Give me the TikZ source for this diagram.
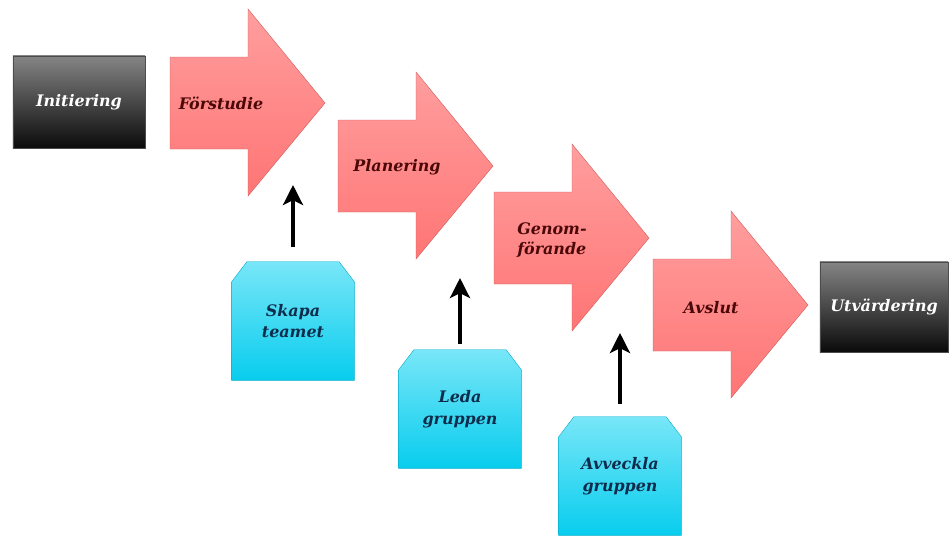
\documentclass[tikz,border=0pt]{standalone}
\usepackage{xcolor}
\usepackage{fontspec}
\setmainfont{DejaVu Serif}
\usepackage{tikz}
\usetikzlibrary{arrows.meta,backgrounds}

\definecolor{phasered}{HTML}{FF7575}
\definecolor{phaselight}{HTML}{FF9E9E}
\definecolor{phasetext}{HTML}{4A0808}
\definecolor{teamblue}{HTML}{08CDEE}
\definecolor{teamlight}{HTML}{78E6F8}
\definecolor{teamtext}{HTML}{0E2D4C}

\tikzset{
  gatebox/.style={rectangle, top color=black!48, bottom color=black!96, draw=black!70,
    text=white, minimum width=3.3cm, minimum height=2.3cm,
    font=\fontsize{11.3}{13}\selectfont\bfseries\itshape},
  phaselabel/.style={text=phasetext, align=left,
    font=\fontsize{11.3}{14}\selectfont\bfseries\itshape},
  teambox/.style={rectangle, text=teamtext, align=center,
    minimum width=3.05cm, minimum height=2.95cm,
    font=\fontsize{11.3}{15.5}\selectfont\bfseries\itshape},
  teamfill/.style={top color=teamlight, bottom color=teamblue, draw=teamblue!85!black, line width=0.3pt},
  uparrow/.style={-{Stealth[length=0.5cm,width=0.5cm,inset=0.12cm]}, line width=2.6pt, black},
  pics/phase/.style={code={
    \shade[top color=phaselight, bottom color=phasered, draw=phasered!80!black, line width=0.3pt]
      (0,0) -- (78,0) -- (78,-48) -- (155,46) -- (78,139) -- (78,92) -- (0,92) -- cycle;
  }}
}

% box with its two upper corners cut off
\newcommand{\teamshape}[1]{%
  \shade[teamfill] (#1.south west) -- ([yshift=-0.5cm]#1.north west)
    -- ([xshift=0.38cm]#1.north west) -- ([xshift=-0.38cm]#1.north east)
    -- ([yshift=-0.5cm]#1.north east) -- (#1.south east) -- cycle;}

\begin{document}
\begin{tikzpicture}[x=0.025cm, y=-0.025cm]
    \useasboundingbox (0,0) rectangle (949,542);

    % Start and end boxes
    \node[gatebox] (initiering) at (79,102) {Initiering};
    \node[gatebox, minimum width=3.2cm, minimum height=2.25cm] (utvardering) at (884,307) {Utvärdering};

    % Phase arrows
    \pic at (170,57) {phase};
    \pic at (338,120) {phase};
    \pic at (494,192) {phase};
    \pic at (653,259) {phase};
    \node[phaselabel] (forstudie) at (221,103) {Förstudie};
    \node[phaselabel] (planering) at (397,167) {Planering};
    \node[phaselabel] (genomforande) at (552,240) {Genom-\\förande};
    \node[phaselabel] (avslut) at (711,308) {Avslut};

    % Team steps
    \node[teambox] (skapa) at (293,321) {Skapa\\teamet};
    \node[teambox] (leda) at (460,409) {Leda\\gruppen};
    \node[teambox] (avveckla) at (620,476) {Avveckla\\gruppen};
    \begin{scope}[on background layer]
        \teamshape{skapa}
        \teamshape{leda}
        \teamshape{avveckla}
    \end{scope}

    % Arrows up to the phases
    \coordinate (skapatip) at (293,185);
    \coordinate (ledatip) at (460,278);
    \coordinate (avvecklatip) at (620,333);
    \draw[uparrow, shorten <=15*0.025cm] (skapa.north) -- (skapatip);
    \draw[uparrow, shorten <=6*0.025cm] (leda.north) -- (ledatip);
    \draw[uparrow, shorten <=13*0.025cm] (avveckla.north) -- (avvecklatip);
\end{tikzpicture}
\end{document}
